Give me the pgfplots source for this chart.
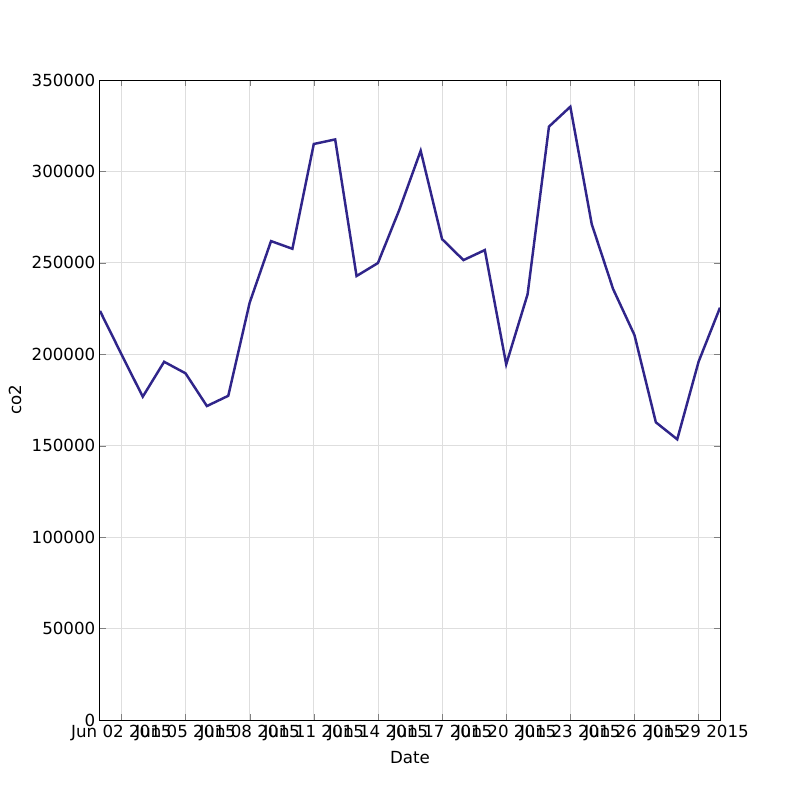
\documentclass[border=0pt]{standalone}
\usepackage{fontspec}
\setmainfont{DejaVu Sans}
\usepackage{pgfplots}
\pgfplotsset{compat=1.18}
\definecolor{linecol}{RGB}{48,37,138}
\definecolor{gridcol}{RGB}{222,222,222}
\begin{document}
\begin{tikzpicture}
% 1 px of the 800x800 reference = 0.75pt
\path[use as bounding box] (-75pt,-60pt) rectangle (525pt,540pt);
\begin{axis}[
    at={(0pt,0pt)}, anchor=south west,
    scale only axis, width=465pt, height=480pt,
    xmin=1, xmax=30, ymin=0, ymax=350000,
    xtick={2,5,8,11,14,17,20,23,26,29},
    xticklabels={Jun 02 2015,Jun 05 2015,Jun 08 2015,Jun 11 2015,Jun 14 2015,
                 Jun 17 2015,Jun 20 2015,Jun 23 2015,Jun 26 2015,Jun 29 2015},
    ytick={0,50000,100000,150000,200000,250000,300000,350000},
    scaled ticks=false,
    /pgf/number format/.cd, fixed, 1000 sep={}, assume math mode=true,
    /pgfplots/.cd,
    tick align=inside, tick pos=both,
    major tick length=4.2pt,
    axis line style={black, line width=0.75pt},
    grid=major,
    major grid style={gridcol, line width=0.6pt},
    tick label style={font=\fontsize{12.5}{15}\selectfont},
    label style={font=\fontsize{12.5}{15}\selectfont},
    xlabel={Date}, ylabel={co2},
    xlabel style={at={(axis description cs:0.5,-0.0594)}, anchor=center},
    ylabel style={at={(axis description cs:-0.137,0.5)}, anchor=center, rotate=0},
  ]
  \addplot[linecol, line width=1.85pt, mark=none] coordinates {
    (1,223700) (2,200100) (3,176800) (4,195900) (5,189600)
    (6,171700) (7,177300) (8,228200) (9,261900) (10,257700)
    (11,315000) (12,317500) (13,242800) (14,249900) (15,279000)
    (16,311300) (17,263000) (18,251500) (19,257000) (20,194500)
    (21,232800) (22,324500) (23,335400) (24,271200) (25,235700)
    (26,210500) (27,162800) (28,153500) (29,196000) (30,225500)
  };
\end{axis}
\end{tikzpicture}
\end{document}
